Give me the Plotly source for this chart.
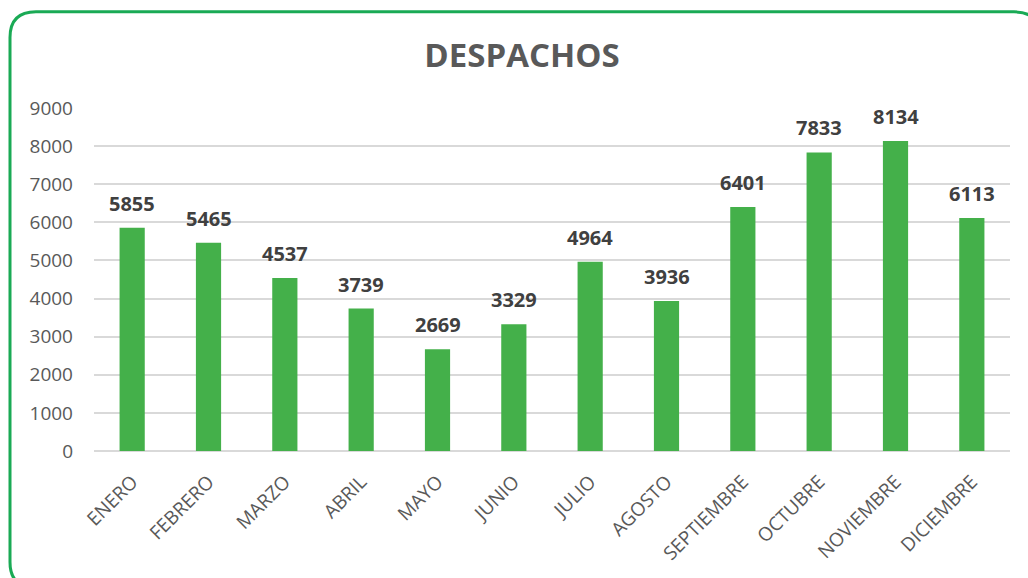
import plotly.graph_objects as go

months = ["ENERO", "FEBRERO", "MARZO", "ABRIL", "MAYO", "JUNIO", "JULIO",
          "AGOSTO", "SEPTIEMBRE", "OCTUBRE", "NOVIEMBRE", "DICIEMBRE"]
despachos = [5855, 5465, 4537, 3739, 2669, 3329, 4964, 3936, 6401, 7833, 8134, 6113]
y_ticks = [0, 1000, 2000, 3000, 4000, 5000, 6000, 7000, 8000, 9000]

W, H = 1028, 578
L, R, T, B = 94, 18, 108, 124
PW, PH = W - L - R, H - T - B

def px(x):
    return (x - L) / PW

def py(y):
    return (H - B - y) / PH

GREEN = "#44B04A"
FONT = "Open Sans"

fig = go.Figure()
fig.add_trace(go.Bar(x=months, y=despachos, marker=dict(color=GREEN, line=dict(width=0)),
                     hoverinfo="x+y"))

for m, v in zip(months, despachos):
    fig.add_annotation(x=m, y=v, text=f"<b>{v}</b>", showarrow=False, yanchor="bottom",
                       yshift=9, font=dict(family=FONT, size=20, color="#404040"))

# rounded border
x0, y0, x1, y1, r = 10, 11, 1040, 592, 26
path = (f"M {px(x0+r)},{py(y0)} L {px(x1-r)},{py(y0)} Q {px(x1)},{py(y0)} {px(x1)},{py(y0+r)} "
        f"L {px(x1)},{py(y1-r)} Q {px(x1)},{py(y1)} {px(x1-r)},{py(y1)} "
        f"L {px(x0+r)},{py(y1)} Q {px(x0)},{py(y1)} {px(x0)},{py(y1-r)} "
        f"L {px(x0)},{py(y0+r)} Q {px(x0)},{py(y0)} {px(x0+r)},{py(y0)} Z")
fig.add_shape(type="path", path=path, xref="paper", yref="paper",
              line=dict(color="#1AAA55", width=3), layer="above")

fig.update_layout(
    width=W, height=H,
    margin=dict(l=L, r=R, t=T, b=B),
    paper_bgcolor="white", plot_bgcolor="white",
    bargap=0.67,
    showlegend=False,
    title=dict(text="<b>DESPACHOS</b>", x=522 / W, xanchor="center", y=1 - 55 / H, yanchor="middle",
               font=dict(family=FONT, size=33, color="#595959")),
    font=dict(family=FONT, color="#595959"),
)
fig.update_yaxes(range=[0, 9000], tickvals=y_ticks, ticktext=[str(t) for t in y_ticks],
                 showgrid=True, gridcolor="#D9D9D9", gridwidth=1.5,
                 zeroline=True, zerolinecolor="#D9D9D9", zerolinewidth=1.5,
                 showline=False, ticks="", ticklabelstandoff=20,
                 tickfont=dict(family=FONT, size=19, color="#595959"))
fig.update_xaxes(tickangle=-45, showgrid=False, showline=False, ticks="",
                 ticklabelstandoff=15,
                 tickfont=dict(family=FONT, size=19, color="#595959"))

fig.write_html("out.html", config={"displayModeBar": False},
               post_script="document.body.style.margin='0';document.body.style.overflow='hidden';")
